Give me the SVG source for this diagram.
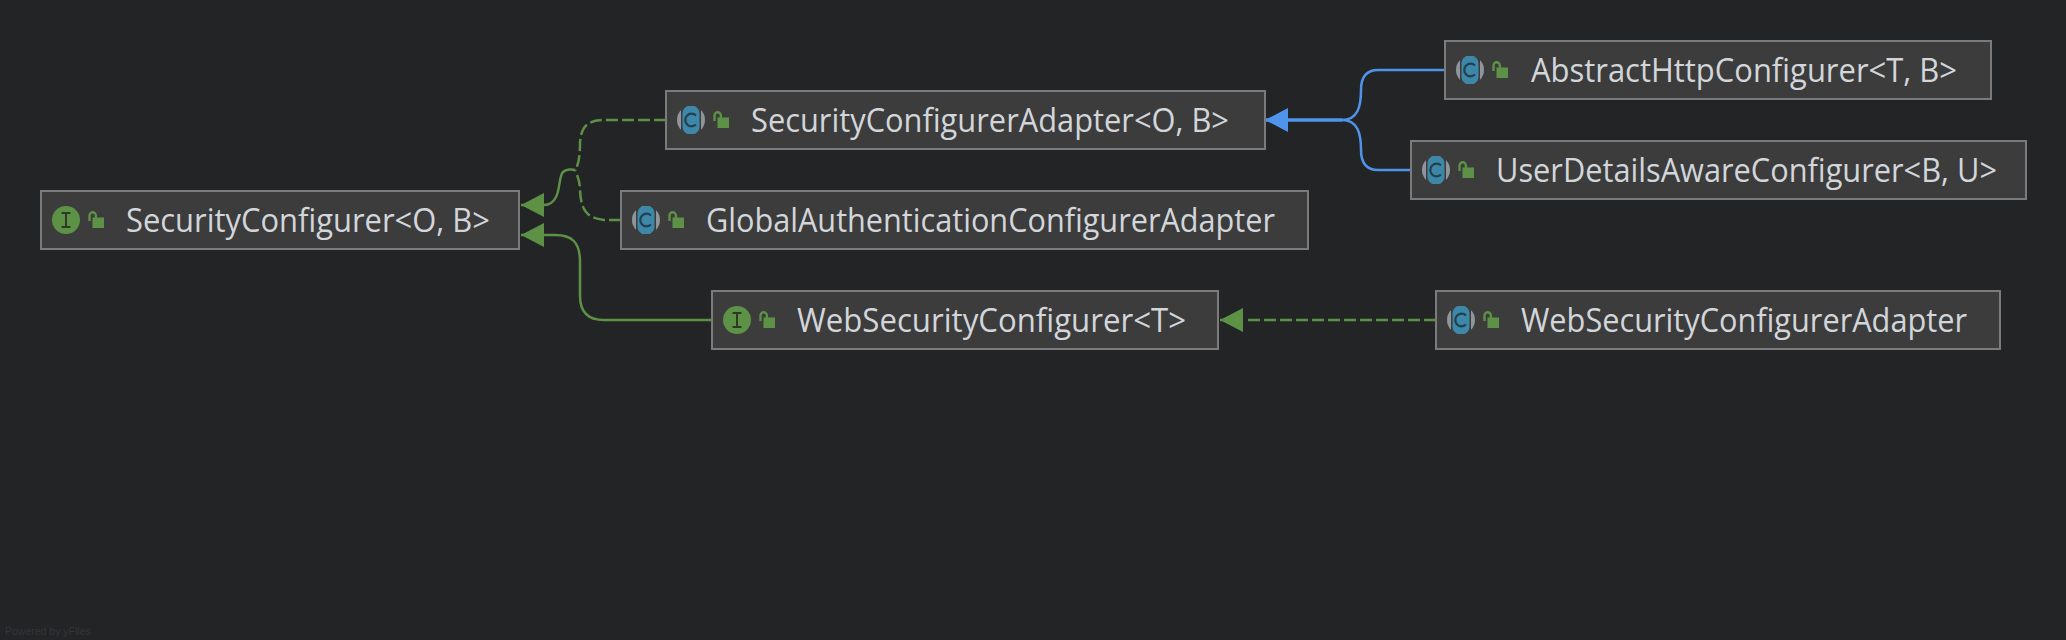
<svg xmlns="http://www.w3.org/2000/svg" xmlns:xlink="http://www.w3.org/1999/xlink" width="2066" height="640" viewBox="0 0 2066 640">
<style>
.box{fill:#3c3c3c;stroke:#7b7b7b;stroke-width:2}
.lbl{font-family:"Open Sans","Noto Sans","Liberation Sans",sans-serif;font-size:33.500px;fill:#d2d6da}
.g{fill:none;stroke:#5c9146;stroke-width:2.500}
.d{stroke-dasharray:12 4}
.b{fill:none;stroke:#4f94ea;stroke-width:2.500}
.foot{font-family:"Liberation Sans",sans-serif;font-size:10.500px;fill:#343538}
</style>
<defs>
<marker id="ag" markerUnits="userSpaceOnUse" markerWidth="26" markerHeight="26" refX="24" refY="13" orient="auto"><path d="M24 13L1 1V25Z" fill="#5c9146"/></marker>
<marker id="ab" markerUnits="userSpaceOnUse" markerWidth="26" markerHeight="26" refX="24" refY="13" orient="auto"><path d="M24 13L1 1V25Z" fill="#4f94ea"/></marker>
<g id="lock"><path d="M5.500 1V-4.500a3.200 3.200 0 0 1 6.400 0V-2" fill="none" stroke="#5c9146" stroke-width="2.400"/><rect x="8.500" y="-2.500" width="11.500" height="10.500" fill="#5c9146"/></g>
<g id="ci"><circle r="14" fill="#8f959b"/><rect x="-10" y="-13" width="20" height="26" fill="#3c3c3c"/><rect x="-8.500" y="-14" width="17" height="28" rx="7" fill="#3d87a8"/><path d="M5 -4.500A6.300 6.300 0 1 0 5 4.500" fill="none" stroke="#23404f" stroke-width="2.200"/></g>
<g id="ii"><circle r="14" fill="#5c9146"/><path d="M-4.500 -7H4.500M-4.500 7H4.500M0 -7V7" fill="none" stroke="#2c3a26" stroke-width="2"/></g>
</defs>
<rect width="2066" height="640" fill="#232426"/>
<g id="connectors">
<path class="g d" d="M666 120H606C590 120 581 124 580 143C580 154 579 165 575 170"/>
<path class="g d" d="M621 220H604C588 218 581 212 580 190C580 182 578 177 575 170"/>
<path class="g" marker-end="url(#ag)" d="M575 170C572 169 566 169 563 172C559 176 560 190 556 197C553 203 549 205 544 205H521"/>
<path class="g" marker-end="url(#ag)" d="M711 320H604C590 320 580 314 580 296V262C580 242 572 235 555 235H521"/>
<path class="g d" d="M1436 320H1246"/>
<path class="g" marker-end="url(#ag)" d="M1243 320H1220"/>
<path class="b" d="M1444 70H1378C1366 70 1361 78 1361 90C1361 106 1358 120 1342 120"/>
<path class="b" d="M1410 170H1378C1366 170 1361 162 1361 150C1361 134 1358 120 1342 120"/>
<path fill="none" stroke="#4f94ea" stroke-width="3.500" marker-end="url(#ab)" d="M1342 120H1265"/>
</g>
<g id="n1"><rect class="box" x="41" y="191" width="478" height="58"/><use xlink:href="#ii" href="#ii" x="66" y="220"/><use xlink:href="#lock" href="#lock" x="84" y="220"/><text class="lbl" x="126" y="232" textLength="364" lengthAdjust="spacingAndGlyphs">SecurityConfigurer&lt;O, B&gt;</text></g>
<g id="n2"><rect class="box" x="666" y="91" width="599" height="58"/><use xlink:href="#ci" href="#ci" x="691" y="120"/><use xlink:href="#lock" href="#lock" x="709" y="120"/><text class="lbl" x="751" y="132" textLength="478" lengthAdjust="spacingAndGlyphs">SecurityConfigurerAdapter&lt;O, B&gt;</text></g>
<g id="n3"><rect class="box" x="621" y="191" width="687" height="58"/><use xlink:href="#ci" href="#ci" x="646" y="220"/><use xlink:href="#lock" href="#lock" x="664" y="220"/><text class="lbl" x="706" y="232" textLength="569" lengthAdjust="spacingAndGlyphs">GlobalAuthenticationConfigurerAdapter</text></g>
<g id="n4"><rect class="box" x="712" y="291" width="506" height="58"/><use xlink:href="#ii" href="#ii" x="737" y="320"/><use xlink:href="#lock" href="#lock" x="755" y="320"/><text class="lbl" x="797" y="332" textLength="389" lengthAdjust="spacingAndGlyphs">WebSecurityConfigurer&lt;T&gt;</text></g>
<g id="n5"><rect class="box" x="1445" y="41" width="546" height="58"/><use xlink:href="#ci" href="#ci" x="1470" y="70"/><use xlink:href="#lock" href="#lock" x="1488" y="70"/><text class="lbl" x="1531" y="82" textLength="426" lengthAdjust="spacingAndGlyphs">AbstractHttpConfigurer&lt;T, B&gt;</text></g>
<g id="n6"><rect class="box" x="1411" y="141" width="615" height="58"/><use xlink:href="#ci" href="#ci" x="1436" y="170"/><use xlink:href="#lock" href="#lock" x="1454" y="170"/><text class="lbl" x="1496" y="182" textLength="501" lengthAdjust="spacingAndGlyphs">UserDetailsAwareConfigurer&lt;B, U&gt;</text></g>
<g id="n7"><rect class="box" x="1436" y="291" width="564" height="58"/><use xlink:href="#ci" href="#ci" x="1461" y="320"/><use xlink:href="#lock" href="#lock" x="1479" y="320"/><text class="lbl" x="1521" y="332" textLength="446" lengthAdjust="spacingAndGlyphs">WebSecurityConfigurerAdapter</text></g>
<text class="foot" x="5" y="635">Powered by yFiles</text>
</svg>
